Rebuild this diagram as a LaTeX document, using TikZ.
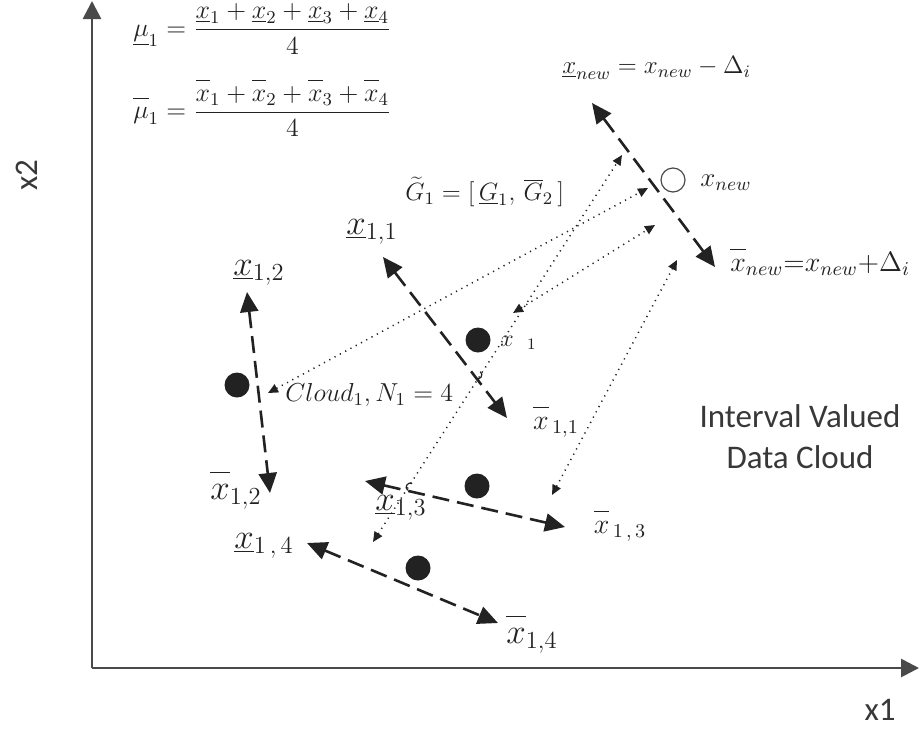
\documentclass[tikz,border=0pt]{standalone}
\usepackage{fix-cm}
\usepackage{fontspec}
\newfontfamily\calibfont{Carlito}
\usetikzlibrary{arrows.meta, positioning}
\definecolor{axisgray}{HTML}{4A4A4A}
\definecolor{inkgray}{HTML}{222222}
\newcommand{\xlo}{\underline{x}}
\newcommand{\xup}{\overline{\vphantom{l}x}}

\begin{document}
\begin{tikzpicture}[
    x=0.5pt, y=-0.5pt,
    axis/.style={draw=axisgray, line width=1.35pt, -{Triangle[length=9pt, width=9pt]}},
    ivl/.style={inkgray, line width=1.3pt, dash pattern=on 8.5pt off 4pt,
        {Triangle[length=10pt, width=9pt]}-{Triangle[length=10pt, width=9pt]}},
    link/.style={inkgray, line width=0.75pt, dash pattern=on 0.6pt off 2.4pt,
        {Triangle[length=5pt, width=4.5pt]}-{Triangle[length=5pt, width=4.5pt]}},
    hump/.style={inkgray, line width=0.6pt},
    dot/.style={circle, fill=inkgray, minimum size=12.5pt, inner sep=0pt},
    newpt/.style={circle, draw=axisgray, line width=0.6pt, minimum size=12pt, inner sep=0pt},
    biglbl/.style={inkgray, font=\fontsize{17.5}{20}\selectfont, inner sep=0pt},
    midlbl/.style={inkgray, font=\fontsize{14}{17}\selectfont, inner sep=0pt},
    frm/.style={inkgray, font=\fontsize{13}{16}\selectfont, inner sep=0pt},
    sans/.style={inkgray!90, font=\calibfont\fontsize{16.5}{20.5}\selectfont, align=center, inner sep=0pt}
]
    \useasboundingbox (0,0) rectangle (919,728);

    % axes
    \coordinate (o) at (92,668);
    \coordinate (x2end) at (92,1);
    \coordinate (x1end) at (919,668);
    \draw[axis] (o) -- (x2end);
    \draw[axis] (o) -- (x1end);
    \node[sans, rotate=90] (x2lbl) at (27,175) {x2};
    \node[sans] (x1lbl) at (880,710) {x1};

    % cloud centre formulas
    \node[frm, anchor=west] (mulo) at (133,29)
        {$\underline{\mu}_1 = \displaystyle\frac{\xlo_1 + \xlo_2 + \xlo_3 + \xlo_4}{4}$};
    \node[frm, anchor=west] (muup) at (133,108)
        {$\overline{\vphantom{l}\mu}_1 = \displaystyle\frac{\xup_1 + \xup_2 + \xup_3 + \xup_4}{4}$};

    % data points and new sample
    \node[dot] (p1) at (478,340) {};
    \node[dot] (p2) at (237,385) {};
    \node[dot] (p3) at (477,486) {};
    \node[dot] (p4) at (418,568) {};
    \node[newpt] (pnew) at (673,180) {};

    % interval ends
    \coordinate (lo11) at (383,257);  \coordinate (up11) at (507,418);
    \coordinate (lo12) at (247,292);  \coordinate (up12) at (270,493);
    \coordinate (lo13) at (365,481);  \coordinate (up13) at (565,527);
    \coordinate (lo14) at (307,543);  \coordinate (up14) at (498,623);
    \coordinate (lonew) at (592,103); \coordinate (upnew) at (715,267);
    \foreach \i in {11,12,13,14,new}
        \draw[ivl] (lo\i) -- (up\i);

    % distance links to the new sample
    \coordinate (lft1) at (268,393); \coordinate (rgt1) at (648,188);
    \coordinate (lft2) at (513,313); \coordinate (rgt2) at (655,225);
    \coordinate (lft3) at (373,542); \coordinate (rgt3) at (622,155);
    \coordinate (lft4) at (552,495); \coordinate (rgt4) at (677,260);
    \foreach \k in {1,...,4}
        \draw[link] (lft\k) -- (rgt\k);
    \draw[hump] (475.8,378.4) .. controls +(4.2,2.7) and +(4.2,2.7) .. (480.2,371.6);
    \draw[hump] (407.8,490.4) .. controls +(-4.2,-2.7) and +(-4.2,-2.7) .. (412.2,483.6);

    % interval labels
    \node[biglbl] (l11) at (372,232) {$\xlo_{1,1}$};
    \node[midlbl] (u11) at (556,422) {$\xup_{\,1,1}$};
    \node[biglbl] (l12) at (259,273) {$\xlo_{1,2}$};
    \node[biglbl] (u12) at (236,490) {$\xup_{1,2}$};
    \node[biglbl] (l13) at (401,508) {$\xlo_{1,3}$};
    \node[midlbl] (u13) at (620,526) {$\xup_{\,1\,,\,3}$};
    \node[biglbl] (l14) at (264,546) {$\xlo_{1\,,\,4}$};
    \node[biglbl] (u14) at (532,634) {$\xup_{1,4}$};

    % other labels
    \node[frm, anchor=west, font=\fontsize{12}{14}\selectfont] (xone) at (500,343) {$x\;\;{}_1$};
    \node[frm, anchor=west] (cloud) at (285,395) {$Cloud_1, N_1 = 4$};
    \node[frm, anchor=west, font=\fontsize{12.5}{15}\selectfont] (gran) at (405,192)
        {$\widetilde{G}_1 = [\,\underline{G}_1 ,\, \overline{G}_2\,]$};
    \node[frm, anchor=west, font=\fontsize{13.5}{16}\selectfont] (xnew) at (700,183) {$x_{new}$};
    \node[frm, anchor=west, font=\fontsize{12.5}{15}\selectfont] (xnewlo) at (562,68)
        {$\underline{x}_{new} = x_{new} - \Delta_i$};
    \node[midlbl, anchor=west] (xnewup) at (730,262)
        {$\xup_{new}{=}x_{new}{+}\Delta_i$};
    \node[sans] (title) at (800,437) {Interval Valued\\Data Cloud};
\end{tikzpicture}
\end{document}
